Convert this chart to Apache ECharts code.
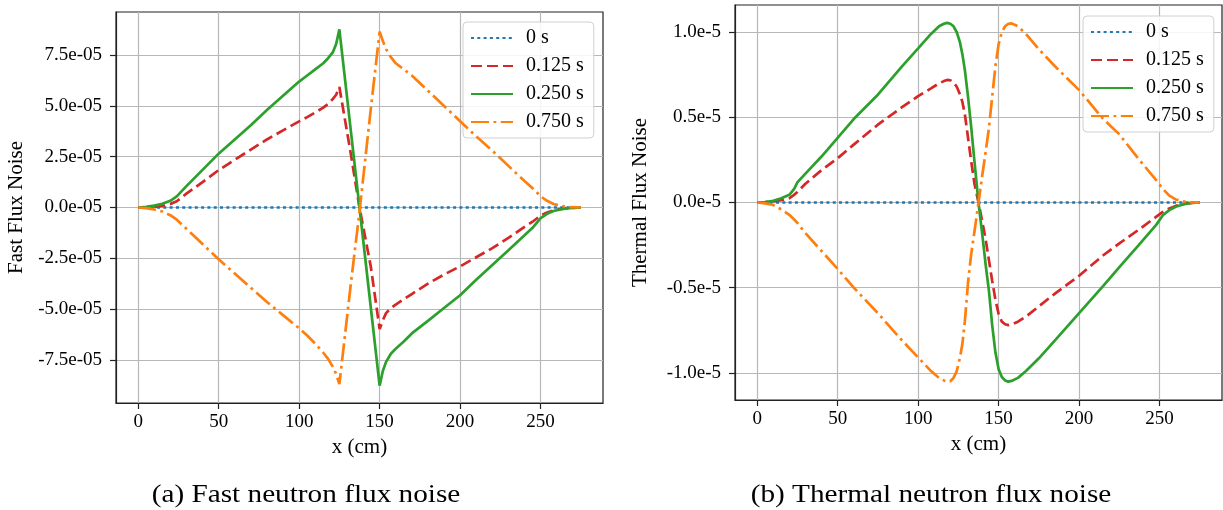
<!DOCTYPE html>
<html><head><meta charset="utf-8">
<script src="https://cdn.jsdelivr.net/npm/echarts@6/dist/echarts.min.js"></script>
<style>html,body{margin:0;padding:0;background:#fff}#c{width:1223px;height:510px}</style>
</head><body><div id="c"></div>
<script>
// ---- data (values in units of 1e-5) ----
const seriesNames = ['0 s', '0.125 s', '0.250 s', '0.750 s'];

const xFast = [0, 5, 10, 15, 20, 24, 30, 40, 50, 60, 70, 80, 90, 100, 105, 110, 115, 118, 121, 123, 125, 132, 137.5, 144.5, 150, 152, 154, 157, 160, 165, 170, 180, 190, 200, 210, 220, 230, 240, 245, 250, 254, 258, 263, 268, 275];
const fast000 = [0, 0, 0, 0, 0, 0, 0, 0, 0, 0, 0, 0, 0, 0, 0, 0, 0, 0, 0, 0, 0, 0, 0, 0, 0, 0, 0, 0, 0, 0, 0, 0, 0, 0, 0, 0, 0, 0, 0, 0, 0, 0, 0, 0, 0];
const fast125 = [0, 0.01, 0.03, 0.08, 0.17, 0.31, 0.68, 1.25, 1.84, 2.35, 2.85, 3.35, 3.8, 4.24, 4.45, 4.68, 4.92, 5.1, 5.35, 5.55, 5.93, 2.69, 0, -2.9, -5.99, -5.55, -5.2, -4.95, -4.78, -4.52, -4.26, -3.75, -3.3, -2.9, -2.45, -2.0, -1.5, -0.95, -0.7, -0.4, -0.25, -0.14, -0.07, -0.02, 0];
const fast250 = [0, 0.03, 0.09, 0.18, 0.33, 0.55, 1.05, 1.85, 2.65, 3.35, 4.05, 4.8, 5.5, 6.2, 6.5, 6.8, 7.1, 7.35, 7.65, 8.05, 8.77, 3.86, 0, -4.91, -8.77, -8.05, -7.6, -7.2, -6.95, -6.6, -6.2, -5.58, -4.95, -4.32, -3.56, -2.83, -2.1, -1.37, -1.0, -0.52, -0.31, -0.17, -0.08, -0.03, 0];
const fast750 = [0, -0.03, -0.1, -0.2, -0.38, -0.6, -1.05, -1.8, -2.55, -3.25, -3.95, -4.65, -5.3, -5.95, -6.3, -6.7, -7.15, -7.45, -7.85, -8.2, -8.7, -3.84, -0.2, 4.84, 8.66, 8.2, 7.8, 7.4, 7.1, 6.8, 6.5, 5.75, 5.0, 4.25, 3.5, 2.8, 2.05, 1.3, 0.95, 0.55, 0.33, 0.17, 0.07, 0.02, 0];

const xTherm = [0, 5, 10, 15, 20, 23, 25, 30, 40, 50, 60, 75, 90, 100, 108, 113, 116, 118, 120, 122, 124, 126, 127.5, 129, 131, 133, 135, 137.5, 140, 142, 144, 146, 148, 150, 152, 154, 156, 158, 162, 167, 175, 185, 200, 215, 225, 237, 248, 252, 256, 260, 265, 270, 275];
const therm000 = [0, 0, 0, 0, 0, 0, 0, 0, 0, 0, 0, 0, 0, 0, 0, 0, 0, 0, 0, 0, 0, 0, 0, 0, 0, 0, 0, 0, 0, 0, 0, 0, 0, 0, 0, 0, 0, 0, 0, 0, 0, 0, 0, 0, 0, 0, 0, 0, 0, 0, 0, 0, 0];
const therm125 = [0, 0.002, 0.006, 0.013, 0.025, 0.045, 0.062, 0.11, 0.19, 0.26, 0.34, 0.457, 0.56, 0.625, 0.67, 0.7, 0.713, 0.72, 0.718, 0.705, 0.68, 0.635, 0.59, 0.52, 0.38, 0.24, 0.11, 0, -0.12, -0.22, -0.34, -0.46, -0.57, -0.655, -0.7, -0.715, -0.72, -0.717, -0.7, -0.67, -0.61, -0.535, -0.43, -0.31, -0.24, -0.16, -0.083, -0.055, -0.035, -0.02, -0.008, -0.002, 0];
const therm250 = [0, 0.003, 0.01, 0.025, 0.045, 0.08, 0.118, 0.17, 0.27, 0.38, 0.49, 0.633, 0.8, 0.905, 0.99, 1.035, 1.05, 1.055, 1.05, 1.035, 1.0, 0.94, 0.87, 0.78, 0.62, 0.44, 0.24, 0, -0.2, -0.37, -0.52, -0.72, -0.88, -0.98, -1.025, -1.045, -1.052, -1.048, -1.03, -0.99, -0.915, -0.81, -0.65, -0.49, -0.38, -0.25, -0.13, -0.075, -0.045, -0.025, -0.01, -0.003, 0];
const therm750 = [0, -0.005, -0.015, -0.04, -0.072, -0.1, -0.12, -0.18, -0.285, -0.39, -0.5, -0.65, -0.81, -0.91, -0.99, -1.03, -1.045, -1.052, -1.05, -1.03, -0.99, -0.91, -0.83, -0.7, -0.47, -0.3, -0.17, 0, 0.17, 0.3, 0.44, 0.62, 0.8, 0.93, 1.0, 1.035, 1.05, 1.052, 1.035, 0.99, 0.9, 0.8, 0.66, 0.49, 0.4, 0.255, 0.13, 0.08, 0.04, 0.018, 0.006, 0.001, 0];

const xTicks = [0, 50, 100, 150, 200, 250];
const fastTicks = [-7.5, -5.0, -2.5, 0, 2.5, 5.0, 7.5];
const fastTickLabels = ['-7.5e-05', '-5.0e-05', '-2.5e-05', '0.0e-05', '2.5e-05', '5.0e-05', '7.5e-05'];
const thermTicks = [-1.0, -0.5, 0, 0.5, 1.0];
const thermTickLabels = ['-1.0e-5', '-0.5e-5', '0.0e-5', '0.5e-5', '1.0e-5'];
const axisNames = { x: 'x (cm)', fastY: 'Fast Flux Noise', thermY: 'Thermal Flux Noise' };
const captions = ['(a) Fast neutron flux noise', '(b) Thermal neutron flux noise'];
const UNIT = 1e-5;

// ---- styling ----
const FONT = 'Liberation Serif';
const colors = ['#1f77b4', '#d62728', '#2ca02c', '#ff7f0e'];
const dashes = [[3, 3.3], [11, 5], 'solid', [18, 4.5, 2.8, 4.5]];
const LW = 2.7;

function pairs(xs, ys) { return xs.map((x, i) => [x, ys[i] * UNIT]); }
function labelFor(ticks, labels) {
  return v => { const i = ticks.findIndex(t => Math.abs(t * UNIT - v) < 1e-10); return i >= 0 ? labels[i] : ''; };
}

function xAxisDef(gi) {
  return {
    type: 'value', gridIndex: gi, min: -13.75, max: 288.75,
    name: axisNames.x, nameLocation: 'middle', nameGap: 29,
    nameTextStyle: { fontFamily: FONT, fontSize: 21, color: '#000' },
    axisLine: { show: true, onZero: false, lineStyle: { color: '#222', width: 1.2 } },
    axisTick: { show: true, length: 6, inside: false, customValues: xTicks, lineStyle: { color: '#222', width: 1.2 } },
    axisLabel: { customValues: xTicks, margin: 10, fontFamily: FONT, fontSize: 19, color: '#000' },
    splitLine: { show: true, lineStyle: { color: '#b8b8b8', width: 1.2 } }
  };
}
function yAxisDef(gi, lo, hi, ticks, labels, name, gap) {
  return {
    type: 'value', gridIndex: gi, min: lo, max: hi,
    name: name, nameLocation: 'middle', nameGap: gap,
    nameTextStyle: { fontFamily: FONT, fontSize: 21, color: '#000' },
    axisLine: { show: true, onZero: false, lineStyle: { color: '#222', width: 1.2 } },
    axisTick: { show: true, length: 6, inside: false, customValues: ticks.map(t => t * UNIT), lineStyle: { color: '#222', width: 1.2 } },
    axisLabel: { customValues: ticks.map(t => t * UNIT), margin: 14, fontFamily: FONT, fontSize: 19, color: '#000', formatter: labelFor(ticks, labels) },
    splitLine: { show: true, lineStyle: { color: '#b8b8b8', width: 1.2 } }
  };
}

const fastSets = [fast000, fast125, fast250, fast750];
const thermSets = [therm000, therm125, therm250, therm750];
const series = [];
fastSets.forEach((ys, k) => series.push({
  type: 'line', name: seriesNames[k], xAxisIndex: 0, yAxisIndex: 0,
  data: pairs(xFast, ys), symbol: 'none', showSymbol: false, smooth: false,
  lineStyle: { color: colors[k], width: LW, type: dashes[k] }, itemStyle: { color: colors[k] }, z: 2 + k
}));
thermSets.forEach((ys, k) => series.push({
  type: 'line', name: seriesNames[k], xAxisIndex: 1, yAxisIndex: 1,
  data: pairs(xTherm, ys), symbol: 'none', showSymbol: false, smooth: false,
  lineStyle: { color: colors[k], width: LW, type: dashes[k] }, itemStyle: { color: colors[k] }, z: 2 + k
}));

function legendDef(left, top) {
  return {
    data: seriesNames, orient: 'vertical', left: left, top: top,
    itemWidth: 42, itemHeight: 14, itemGap: 8,
    padding: [6, 10, 6, 7],
    backgroundColor: 'rgba(255,255,255,0.85)', borderColor: '#d0d0d0', borderWidth: 1, borderRadius: 4,
    itemStyle: { opacity: 0 },
    textStyle: { fontFamily: FONT, fontSize: 20, color: '#000', padding: [0, 0, 0, 8] },
    selectedMode: false
  };
}

const option = {
  animation: false,
  backgroundColor: '#fff',
  grid: [
    { left: 116, top: 12, width: 487, height: 391, show: true, borderColor: '#222', borderWidth: 1.2, containLabel: false },
    { left: 735, top: 5, width: 487, height: 395, show: true, borderColor: '#222', borderWidth: 1.2, containLabel: false }
  ],
  xAxis: [xAxisDef(0), xAxisDef(1)],
  yAxis: [
    yAxisDef(0, -9.625 * UNIT, 9.625 * UNIT, fastTicks, fastTickLabels, axisNames.fastY, 89),
    yAxisDef(1, -1.16 * UNIT, 1.16 * UNIT, thermTicks, thermTickLabels, axisNames.thermY, 84)
  ],
  legend: [legendDef(463, 22), legendDef(1083, 16)],
  series: series,
  graphic: captions.map((c, i) => ({
    type: 'text', x: [306, 931][i], y: 495, scaleX: 1.17, silent: true,
    style: { text: c, font: '25px "Liberation Serif"', fill: '#000', align: 'center', verticalAlign: 'middle', textAlign: 'center', textVerticalAlign: 'middle' }
  }))
};

const chart = echarts.init(document.getElementById('c'), null, { renderer: 'canvas' });
chart.setOption(option);
</script>
</body></html>
